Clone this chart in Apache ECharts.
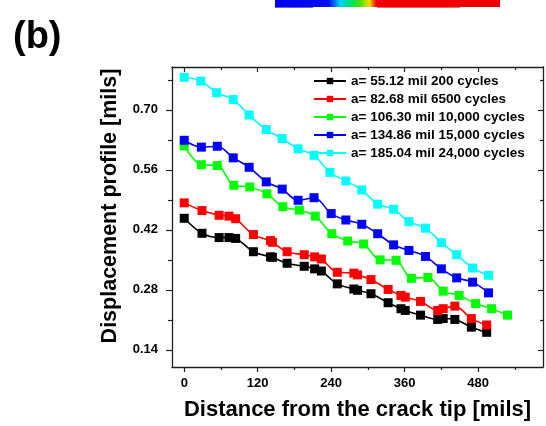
<!DOCTYPE html>
<html><head><meta charset="utf-8">
<script src="https://cdn.jsdelivr.net/npm/echarts@6/dist/echarts.min.js"></script>
<style>html,body{margin:0;padding:0;background:#fff}#c{width:546px;height:426px}</style>
</head><body><div id="c"></div><script>
const seriesNames = ['a= 55.12 mil 200 cycles','a= 82.68 mil 6500 cycles','a= 106.30 mil 10,000 cycles','a= 134.86 mil 15,000 cycles','a= 185.04 mil 24,000 cycles'];
const seriesColors = ['#000000','#ff0000','#00ff00','#0000ff','#00ffff'];

const xBlack = [0,29,57,73,84,113,141,144,168,196,213,224,250,277,283,305,333,354,361,386,414,423,442,469,494];
const yBlack = [0.447,0.412,0.402,0.402,0.400,0.369,0.357,0.356,0.342,0.335,0.329,0.324,0.294,0.282,0.279,0.271,0.250,0.236,0.232,0.221,0.211,0.213,0.211,0.193,0.181];

const xRed = [0,29,57,73,84,113,141,144,168,196,213,224,250,277,283,305,333,354,361,386,414,423,442,469,494];
const yRed = [0.483,0.465,0.454,0.452,0.446,0.409,0.395,0.391,0.369,0.362,0.357,0.352,0.321,0.319,0.315,0.304,0.281,0.267,0.263,0.253,0.232,0.236,0.242,0.213,0.198];

const xGreen = [0,28,54,81,107,135,161,188,214,241,267,293,320,346,371,398,423,449,476,502,528];
const yGreen = [0.616,0.572,0.570,0.524,0.520,0.504,0.474,0.466,0.452,0.411,0.394,0.387,0.350,0.349,0.307,0.309,0.277,0.267,0.248,0.236,0.221];

const xBlue = [0,28,54,80,106,134,160,186,212,240,264,290,316,342,367,394,420,445,471,497];
const yBlue = [0.629,0.613,0.615,0.588,0.566,0.532,0.515,0.489,0.495,0.458,0.443,0.433,0.411,0.385,0.372,0.358,0.329,0.308,0.298,0.273];

const xCyan = [0,27,53,80,106,134,160,186,212,238,264,290,316,342,367,394,420,445,471,497];
const yCyan = [0.776,0.767,0.740,0.724,0.688,0.654,0.633,0.609,0.594,0.554,0.534,0.513,0.480,0.468,0.439,0.424,0.390,0.362,0.331,0.314];

const xTicks = [0,120,240,360,480];
const xMinorTicks = [60,180,300,420,540];
const yTicks = [0.14,0.28,0.42,0.56,0.70];
const yMinorTicks = [0.21,0.35,0.49,0.63,0.77];

const xs = [xBlack,xRed,xGreen,xBlue,xCyan];
const ys = [yBlack,yRed,yGreen,yBlue,yCyan];

const FONT = 'Liberation Sans, Arial, sans-serif';
const AX = '#222';
const XMIN = -20, XMAX = 586, YMIN = 0.10, YMAX = 0.80;

function xAx(pos, vals, len, inside, showLine, showLabel, extra) {
  return Object.assign({
    type:'value', position:pos, min:XMIN, max:XMAX,
    axisLine:{show:showLine, onZero:false, lineStyle:{color:AX,width:1.3}},
    axisTick:{show:true, customValues:vals, length:len, inside:inside, lineStyle:{color:AX,width:1.2}},
    axisLabel:{show:showLabel, customValues:vals, margin:10, color:'#000', fontFamily:FONT, fontWeight:'bold', fontSize:13},
    splitLine:{show:false}
  }, extra||{});
}
function yAx(pos, vals, len, inside, showLine, showLabel, extra) {
  return Object.assign({
    type:'value', position:pos, min:YMIN, max:YMAX,
    axisLine:{show:showLine, onZero:false, lineStyle:{color:AX,width:1.3}},
    axisTick:{show:true, customValues:vals, length:len, inside:inside, lineStyle:{color:AX,width:1.2}},
    axisLabel:{show:showLabel, customValues:vals, margin:14, color:'#000', fontFamily:FONT, fontWeight:'bold', fontSize:13,
      formatter:(v)=>v.toFixed(2)},
    splitLine:{show:false}
  }, extra||{});
}

const chart = echarts.init(document.getElementById('c'), null, {renderer:'canvas'});
chart.setOption({
  animation:false,
  backgroundColor:'#fff',
  grid:{left:172, top:67, right:3, bottom:58, containLabel:false},
  graphic:[
    {type:'rect', shape:{x:275,y:0,width:225,height:7}, style:{fill:new echarts.graphic.LinearGradient(0,0,1,0,[
      {offset:0,color:'#0000ee'},{offset:0.24,color:'#0010ee'},{offset:0.29,color:'#00d0ff'},{offset:0.34,color:'#00e060'},
      {offset:0.38,color:'#50e000'},{offset:0.42,color:'#f0e000'},{offset:0.45,color:'#ee0000'},{offset:1,color:'#ee0000'}])}},
    {type:'rect', shape:{x:275,y:7,width:38,height:1}, style:{fill:'#6060ff'}},
    {type:'rect', shape:{x:377,y:7,width:83,height:1}, style:{fill:'#ff6060'}},
    {type:'text', left:13, top:19, style:{text:'(b)', font:'bold 38px '+FONT, fill:'#000'}}
  ],
  legend:{
    orient:'vertical', left:308, top:69, itemWidth:32, itemHeight:8, itemGap:4,
    data:seriesNames,
    textStyle:{color:'#000', fontFamily:FONT, fontWeight:'bold', fontSize:13.5}
  },
  xAxis:[
    xAx('bottom', xTicks, 5, false, true, true, {
      name:'Distance from the crack tip [mils]', nameLocation:'middle', nameGap:32,
      nameTextStyle:{color:'#000', fontFamily:FONT, fontWeight:'bold', fontSize:22}}),
    xAx('bottom', xMinorTicks, 3, false, false, false),
    xAx('top', xTicks, 5, true, true, false),
    xAx('top', xMinorTicks, 3, true, false, false)
  ],
  yAxis:[
    yAx('left', yTicks, 6, false, true, true, {
      name:'Displacement profile [mils]', nameLocation:'middle', nameGap:51,
      nameTextStyle:{color:'#000', fontFamily:FONT, fontWeight:'bold', fontSize:21.5, padding:[0,0,0,22]}}),
    yAx('left', yMinorTicks, 4, false, false, false),
    yAx('right', yTicks, 5, true, true, false),
    yAx('right', yMinorTicks, 3, true, false, false)
  ],
  series: seriesNames.map((n,k)=>({
    name:n, type:'line', xAxisIndex:0, yAxisIndex:0, smooth:0.35,
    symbol:'rect', symbolSize:9,
    lineStyle:{color:seriesColors[k], width:1.6},
    itemStyle:{color:seriesColors[k]},
    data: xs[k].map((v,i)=>[v, ys[k][i]]),
    z: 2+k
  }))
});
</script></body></html>
